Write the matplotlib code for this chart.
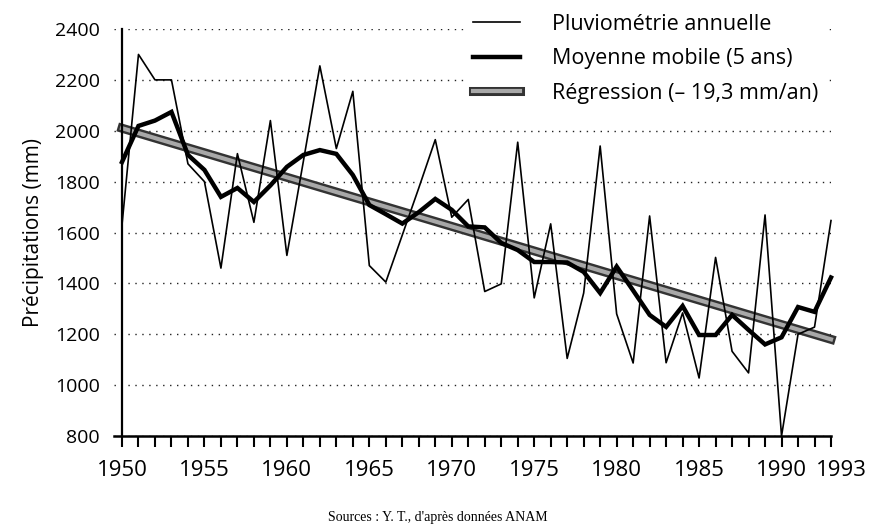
import matplotlib
matplotlib.use("Agg")
import matplotlib.pyplot as plt
import matplotlib.patheffects as pe
from matplotlib.transforms import ScaledTranslation

years = list(range(1950, 1994))

# annual rainfall (mm)
pluvio = [1630, 2300, 2200, 2200, 1870, 1800, 1460, 1910, 1640, 2040,
          1510, 1880, 2255, 1930, 2155, 1470, 1405, 1590, 1775, 1965,
          1660, 1730, 1368, 1398, 1955, 1343, 1634, 1105, 1362, 1940,
          1280, 1087, 1665, 1088, 1284, 1028, 1502, 1133, 1048, 1669,
          800, 1200, 1228, 1647]

# 5-year moving average
moyenne = [1877, 2019, 2040, 2074, 1905, 1846, 1740, 1775, 1720, 1785,
           1858, 1905, 1924, 1909, 1826, 1708, 1672, 1635, 1680, 1732,
           1689, 1624, 1620, 1559, 1531, 1484, 1484, 1482, 1445, 1362,
           1466, 1372, 1276, 1229, 1311, 1197, 1197, 1276, 1217, 1160,
           1188, 1307, 1288, 1423]

# regression line end points
reg_years = [1950, 1993]
reg_values = [2010, 1180]

xtick_labels = ["1950", "1955", "1960", "1965", "1970", "1975",
                "1980", "1985", "1990", "1993"]
yticks = [800, 1000, 1200, 1400, 1600, 1800, 2000, 2200, 2400]

plt.rcParams['font.family'] = ['Open Sans', 'DejaVu Sans']

fig = plt.figure(figsize=(8.7, 5.27), dpi=100)
ax = fig.add_axes([113.75 / 870, 91 / 527, (831 - 113.75) / 870, 407 / 527])

ax.plot(years, pluvio, color='black', lw=1.2, label='Pluviométrie annuelle',
        zorder=3, clip_on=False)
ax.plot(years, moyenne, color='black', lw=3.2, label='Moyenne mobile (5 ans)',
        solid_joinstyle='miter', zorder=4, clip_on=False)
ax.plot(reg_years, reg_values, color='#a8a8a8', lw=3,
        label='Régression (– 19,3 mm/an)', zorder=2, clip_on=False,
        path_effects=[pe.Stroke(linewidth=6.5, foreground='#333333'), pe.Normal()])

ax.set_xlim(1949.5, 1993)
ax.set_ylim(800, 2400)

ax.spines['top'].set_visible(False)
ax.spines['right'].set_visible(False)
ax.spines['left'].set_position(('data', 1950))
ax.spines['left'].set_linewidth(1.6)
ax.spines['bottom'].set_linewidth(1.8)

ax.set_yticks(yticks)
ax.tick_params(axis='y', length=0, pad=16, labelsize=14)
ax.set_xticks(years)
ax.set_xticklabels([str(y) if str(y) in xtick_labels else '' for y in years])
ax.tick_params(axis='x', direction='out', length=8, width=1.5, pad=9, labelsize=16)
for lab in ax.get_xticklabels():
    if lab.get_text() == '1993':
        lab.set_transform(lab.get_transform() + ScaledTranslation(10 / 100, 0, fig.dpi_scale_trans))

ax.yaxis.grid(True, linestyle=(0, (1, 4)), color='#222222', lw=1)
ax.set_axisbelow(True)

ax.set_ylabel('Précipitations (mm)', fontsize=15, labelpad=8)

leg = ax.legend(loc='upper left', bbox_to_anchor=(464 / 870, 0.99),
                bbox_transform=fig.transFigure, fontsize=15.5, frameon=True,
                facecolor='white', edgecolor='none', framealpha=1,
                handlelength=2.2, handletextpad=1.5, labelspacing=0.62,
                borderpad=0.4, borderaxespad=0, fancybox=False)
leg.set_zorder(10)

fig.text(438 / 870, 0.018, "Sources : Y. T., d'après données ANAM",
         ha='center', va='center', fontsize=10, family='Liberation Serif')

fig.savefig('out.png', dpi=100)
